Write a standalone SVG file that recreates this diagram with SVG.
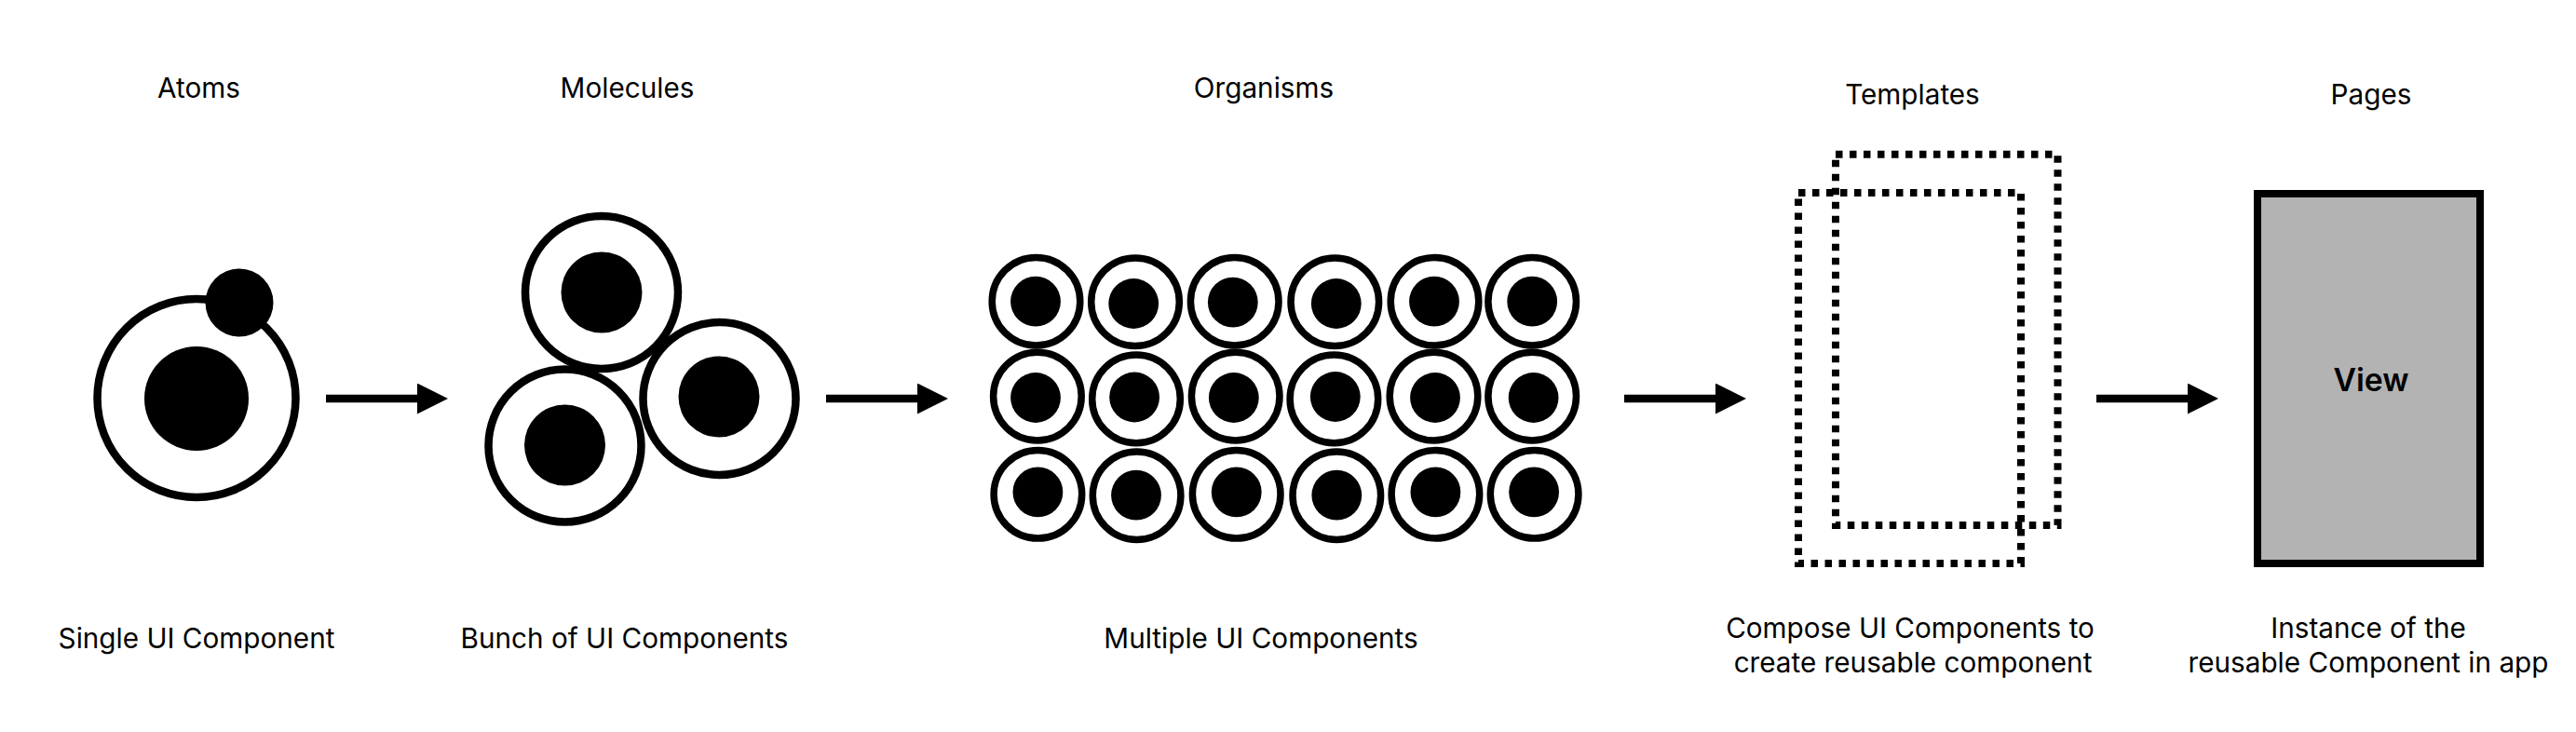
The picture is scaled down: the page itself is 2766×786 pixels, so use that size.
<svg xmlns="http://www.w3.org/2000/svg" width="2766" height="786" viewBox="0 0 2766 786">
<style>
text{font-family:Inter,"Liberation Sans",sans-serif;font-size:29.7px;fill:#000;text-anchor:middle}
.ring{fill:#fff;stroke:#000;stroke-width:8.5}
.oring{fill:#fff;stroke:#000;stroke-width:7.5}
.dot{fill:#000}
.dash{fill:none;stroke:#000;stroke-width:8;stroke-dasharray:7.5 7.5}
.conn{stroke:#000;stroke-width:8.5;fill:none;marker-end:url(#head)}
</style>
<defs><marker id="head" markerUnits="userSpaceOnUse" markerWidth="33" markerHeight="33" refX="0" refY="16.5" orient="auto"><path d="M0 0L33 16.5L0 33Z" fill="#000"/></marker></defs>
<rect width="2766" height="786" fill="#fff"/>
<g id="connectors">
<path class="conn" d="M350 428H448"/>
<path class="conn" d="M887 428H985"/>
<path class="conn" d="M1744 428H1842"/>
<path class="conn" d="M2251 428H2349"/>
</g>
<g id="atoms">
<text x="213.5" y="105">Atoms</text>
<circle class="ring" cx="211" cy="427.5" r="106.5"/>
<circle class="dot" cx="211" cy="428" r="56"/>
<circle class="dot" cx="257" cy="325" r="36.5"/>
<text x="211" y="696">Single UI Component</text>
</g>
<g id="molecules">
<text x="673.5" y="105">Molecules</text>
<circle class="ring" cx="606.5" cy="478.5" r="82"/>
<circle class="dot" cx="606.5" cy="478" r="43.5"/>
<circle class="ring" cx="646" cy="314" r="82"/>
<circle class="dot" cx="646" cy="314" r="43.5"/>
<circle class="ring" cx="772.5" cy="428" r="82"/>
<circle class="dot" cx="772" cy="426" r="43.5"/>
<text x="670.5" y="696">Bunch of UI Components</text>
</g>
<g id="organisms">
<text x="1357" y="105">Organisms</text>
<g class="grid">
<circle class="oring" cx="1112.5" cy="323.7" r="47.3"/><circle class="oring" cx="1219" cy="324.2" r="47.3"/><circle class="oring" cx="1325.7" cy="323.7" r="47.3"/><circle class="oring" cx="1433.3" cy="324.2" r="47.3"/><circle class="oring" cx="1540.5" cy="323.7" r="47.3"/><circle class="oring" cx="1645.2" cy="323.7" r="47.3"/>
<circle class="oring" cx="1113.9" cy="425.6" r="47.3"/><circle class="oring" cx="1220" cy="428.4" r="47.3"/><circle class="oring" cx="1326.7" cy="425.6" r="47.3"/><circle class="oring" cx="1432.4" cy="428.4" r="47.3"/><circle class="oring" cx="1539.5" cy="425.6" r="47.3"/><circle class="oring" cx="1645.2" cy="425.6" r="47.3"/>
<circle class="oring" cx="1114.4" cy="530.8" r="47.3"/><circle class="oring" cx="1220.6" cy="532.2" r="47.3"/><circle class="oring" cx="1327.7" cy="530.8" r="47.3"/><circle class="oring" cx="1435.3" cy="532.2" r="47.3"/><circle class="oring" cx="1541.4" cy="530.8" r="47.3"/><circle class="oring" cx="1647.6" cy="530.8" r="47.3"/>
<circle class="dot" cx="1112" cy="323.7" r="26.9"/><circle class="dot" cx="1217.2" cy="326" r="26.9"/><circle class="dot" cx="1323.8" cy="324.6" r="26.9"/><circle class="dot" cx="1434.8" cy="326" r="26.9"/><circle class="dot" cx="1540" cy="323.7" r="26.9"/><circle class="dot" cx="1645.2" cy="323.7" r="26.9"/>
<circle class="dot" cx="1112" cy="427" r="26.9"/><circle class="dot" cx="1218.1" cy="426.5" r="26.9"/><circle class="dot" cx="1324.8" cy="427" r="26.9"/><circle class="dot" cx="1433.8" cy="426" r="26.9"/><circle class="dot" cx="1541" cy="427" r="26.9"/><circle class="dot" cx="1646.6" cy="427" r="26.9"/>
<circle class="dot" cx="1114.4" cy="528.4" r="26.9"/><circle class="dot" cx="1220" cy="531.7" r="26.9"/><circle class="dot" cx="1327.7" cy="528.4" r="26.9"/><circle class="dot" cx="1435.3" cy="531.7" r="26.9"/><circle class="dot" cx="1541.4" cy="528.4" r="26.9"/><circle class="dot" cx="1647.1" cy="528.4" r="26.9"/>
</g>
<text x="1354" y="696">Multiple UI Components</text>
</g>
<g id="templates">
<text x="2053.5" y="112">Templates</text>
<rect class="dash" x="1971" y="165.7" width="238.5" height="398.3"/>
<rect class="dash" x="1931" y="207" width="239" height="398"/>
<text x="2051" y="685">Compose UI Components to</text>
<text x="2054" y="722">create reusable component</text>
</g>
<g id="pages">
<text x="2546" y="112">Pages</text>
<rect x="2424" y="208" width="239" height="397" fill="#b3b3b3" stroke="#000" stroke-width="8"/>
<text x="2546" y="419.5" font-weight="600" style="font-size:33.7px">View</text>
<text x="2543" y="685">Instance of the</text>
<text x="2543" y="722">reusable Component in app</text>
</g>
</svg>
